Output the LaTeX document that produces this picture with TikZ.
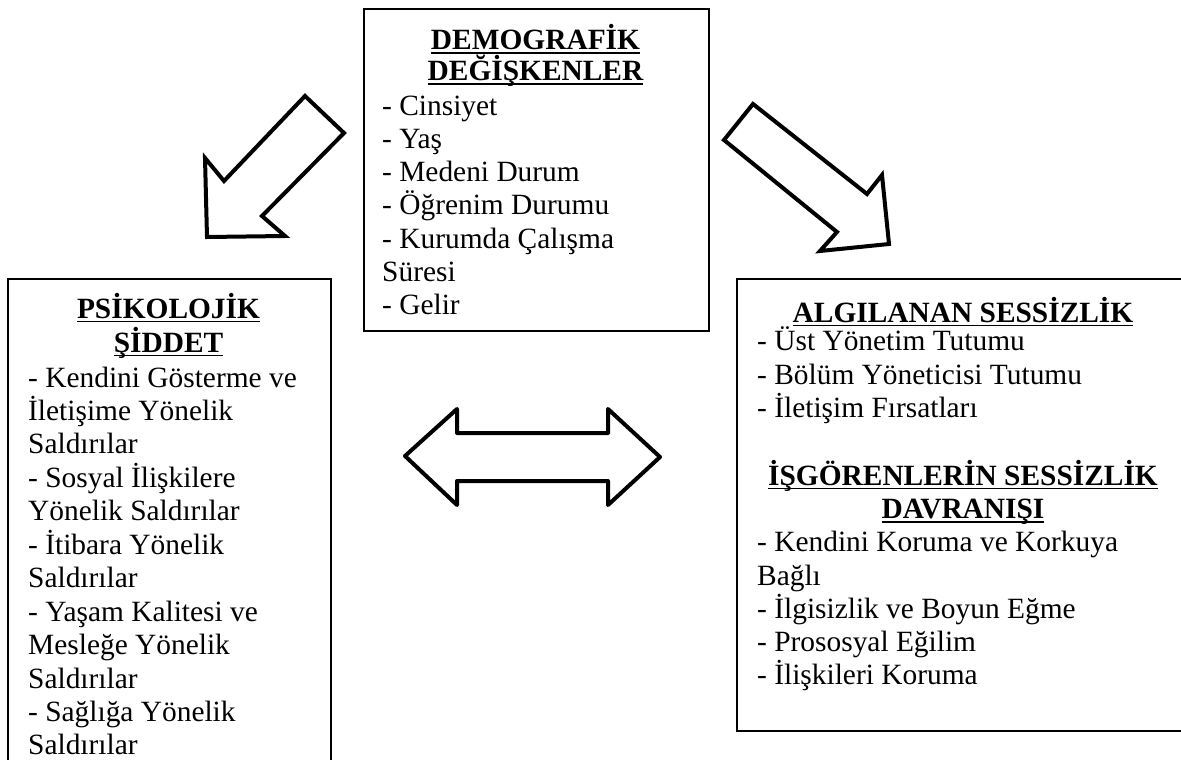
\documentclass[tikz,border=0pt]{standalone}
\usepackage{fontspec}
\setmainfont{Liberation Serif}
\newsavebox\hdbox
\newcommand\hd[1]{\sbox\hdbox{#1}\rlap{\usebox\hdbox}\rule[-4.3pt]{\wd\hdbox}{1.8pt}}
\tikzset{
  frame/.style={draw=black, line width=1.7pt, fill=none},
  body/.style={font=\fontsize{29.4}{33}\selectfont, inner sep=0pt, anchor=base west},
  head/.style={font=\fontsize{29.4}{33}\selectfont\bfseries, inner sep=0pt, anchor=base},
  blockarrow/.style={draw=black, line width=4pt, fill=white, line join=miter},
  dblarrow/.style={draw=black, line width=4pt, fill=white, line join=round},
}
\begin{document}
\begin{tikzpicture}[x=1pt,y=-1pt]
\useasboundingbox (0,0) rectangle (1181,760);
% boxes
\node[frame, anchor=north west, minimum width=345pt, minimum height=322pt, inner sep=0pt] (demo) at (363,8) {};
\node[frame, anchor=north west, minimum width=323pt, minimum height=540pt, inner sep=0pt] (psi) at (7,278) {};
\node[frame, anchor=north west, minimum width=500pt, minimum height=452pt, inner sep=0pt] (alg) at (736,278) {};
% top box text
\node[head] (dh1) at (535.5,50) {\hd{DEMOGRAFİK}};
\node[head] (dh2) at (535.5,81) {\hd{DEĞİŞKENLER}};
\foreach [count=\i] \t in {- Cinsiyet, - Yaş, - Medeni Durum, - Öğrenim Durumu, - Kurumda Çalışma, Süresi, - Gelir}
  \node[body] (d\i) at (382,{115+(\i-1)*33.3}) {\t};
% left box text
\node[head] (ph1) at (168.5,318) {\hd{PSİKOLOJİK}};
\node[head] (ph2) at (168.5,352) {\hd{ŞİDDET}};
\foreach [count=\i] \t in {- Kendini Gösterme ve, İletişime Yönelik, Saldırılar, - Sosyal İlişkilere, Yönelik Saldırılar, - İtibara Yönelik, Saldırılar, - Yaşam Kalitesi ve, Mesleğe Yönelik, Saldırılar, - Sağlığa Yönelik, Saldırılar}
  \node[body] (p\i) at (28,{387+(\i-1)*33.45}) {\t};
% right box text
\node[head] (ah1) at (963,322) {\hd{ALGILANAN SESSİZLİK}};
\foreach [count=\i] \t in {- Üst Yönetim Tutumu, - Bölüm Yöneticisi Tutumu, - İletişim Fırsatları}
  \node[body] (a\i) at (757,{350.7+(\i-1)*33.3}) {\t};
\node[head] (ih1) at (963,485) {\hd{İŞGÖRENLERİN SESSİZLİK}};
\node[head] (ih2) at (963,518.3) {\hd{DAVRANIŞI}};
\foreach [count=\i] \t in {- Kendini Koruma ve Korkuya, Bağlı, - İlgisizlik ve Boyun Eğme, - Prososyal Eğilim, - İlişkileri Koruma}
  \node[body] (i\i) at (757,{551.7+(\i-1)*33.3}) {\t};
% block arrows
\draw[blockarrow] (305,96) -- (344,133) -- (262,216) -- (285,236) -- (207,237) -- (205,158) -- (224,181) -- cycle;
\draw[blockarrow] (753,104) -- (867,194) -- (882,175) -- (889,244) -- (820,251) -- (837,232) -- (724,140) -- cycle;
\draw[dblarrow] (405,456) -- (457,409) -- (457,433) -- (608,433) -- (608,409) -- (660,457) -- (608,505) -- (608,481) -- (457,481) -- (457,505) -- cycle;
\end{tikzpicture}
\end{document}
